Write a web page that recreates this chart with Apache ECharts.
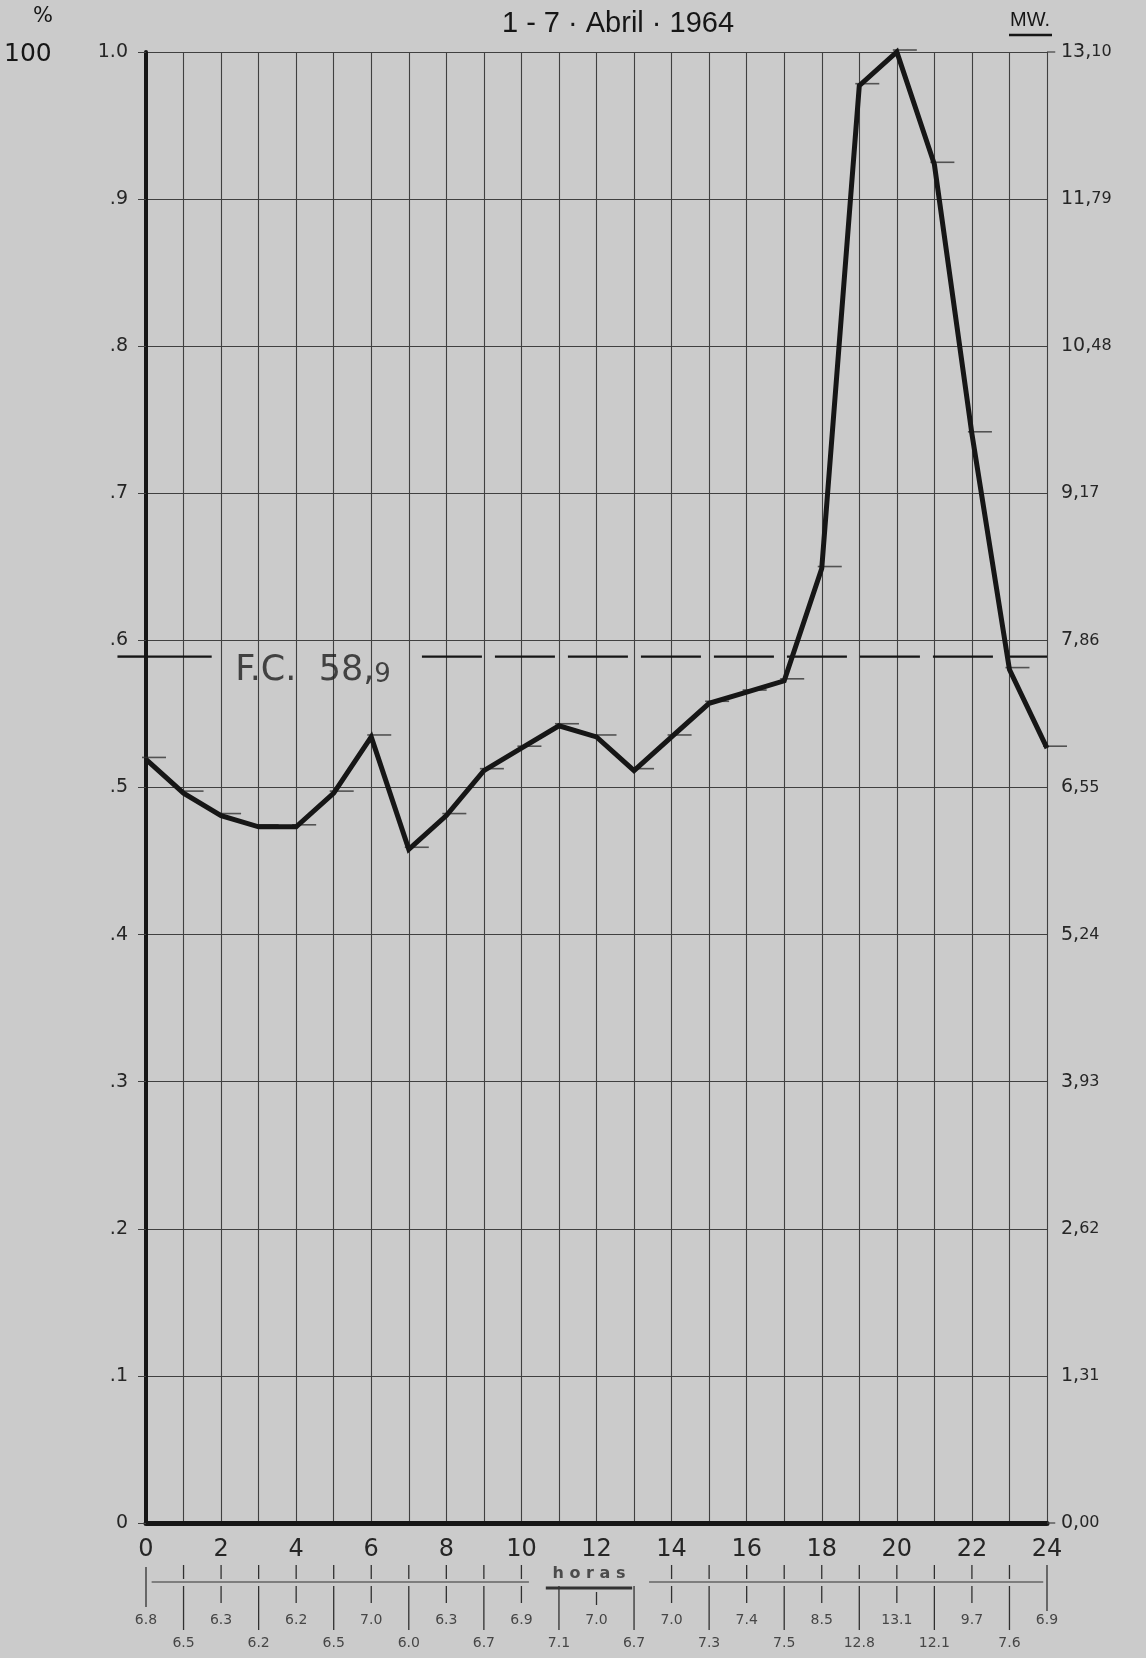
<!DOCTYPE html>
<html><head><meta charset="utf-8">
<script src="https://cdn.jsdelivr.net/npm/echarts@6/dist/echarts.min.js"></script>
<style>html,body{margin:0;padding:0;background:#cbcbcb}#c{width:1146px;height:1658px}</style>
</head><body><div id="c"></div>
<script>
// ---- data ----
const hours = [0,1,2,3,4,5,6,7,8,9,10,11,12,13,14,15,16,17,18,19,20,21,22,23,24];
const mwValues = [6.8,6.5,6.3,6.2,6.2,6.5,7.0,6.0,6.3,6.7,6.9,7.1,7.0,6.7,7.0,7.3,7.4,7.5,8.5,12.8,13.1,12.1,9.7,7.6,6.9];
const mwMax = 13.10;
const mwStep = 1.31;
const pctStep = 0.1;
const loadFactorPct = 58.9;
const titleText = '1 - 7 · Abril · 1964';
const hoursLabel = 'h o r a s';

// ---- layout / style constants ----
const INK = '#161616';
const GRID_COL = '#404040';
const BG = '#cbcbcb';
const FONT = '"DejaVu Sans", "Liberation Sans", sans-serif';
const G = {left: 146, right: 99, top: 52, bottom: 135};
const hourPx = (1146 - G.left - G.right) / 24;

const fc = loadFactorPct / 100;

// table rows (pixel-like units below the x axis)
const TBL = {line: 59, upA: 42, upB: 56, dnA: 63, dnShort: 80, dnLong: 107, row1: 97, row2: 120, horas: 51, underline: 65};

function segRender(width, color) {
  return function (params, api) {
    const a = api.coord([api.value(0), api.value(1)]);
    const b = api.coord([api.value(2), api.value(3)]);
    return {type: 'line', shape: {x1: a[0], y1: a[1], x2: b[0], y2: b[1]},
            style: {stroke: color, lineWidth: width}};
  };
}

// table ticks
const tableTicks = [];
hours.forEach(h => {
  if ((h >= 1 && h <= 10) || (h >= 14 && h <= 23)) tableTicks.push([h, TBL.upA, h, TBL.upB]);
  if (h === 0) tableTicks.push([h, TBL.upA + 2, h, 84]);
  else if (h === 24) tableTicks.push([h, TBL.upA, h, 88]);
  else if (h % 2 === 0) tableTicks.push([h, h === 12 ? 69 : TBL.dnA, h, h === 12 ? 82 : TBL.dnShort]);
  else tableTicks.push([h, TBL.dnA, h, TBL.dnLong]);
});
const tableLines = [[0.15, TBL.line, 10.2, TBL.line], [13.4, TBL.line, 23.9, TBL.line]];
const tableValueLabels = hours.map((h, i) => [h, h % 2 === 0 ? TBL.row1 : TBL.row2, mwValues[i]]);
// short outer ticks on the right edge at the bottom and top of the scale
const rightEdgeTicks = [[24, 0, 24.22, 0], [24, 1, 24.22, 1]];

const chart = echarts.init(document.getElementById('c'));
chart.setOption({
  animation: false,
  backgroundColor: BG,
  textStyle: {fontFamily: FONT, color: INK},
  graphic: [
    {type: 'text', left: 33, top: 6, style: {text: '%', font: '21px ' + FONT, fill: INK}},
    {type: 'text', left: 4, top: 42, style: {text: '100', font: '25px ' + FONT, fill: INK}},
    {type: 'text', left: 1010, top: 10, style: {text: 'MW.', font: '20px "Liberation Sans", sans-serif', fill: INK}},
    {type: 'line', shape: {x1: 1009, y1: 35, x2: 1052, y2: 35}, style: {stroke: INK, lineWidth: 2.5}}
  ],
  title: {
    text: titleText, left: 613, top: 4, textAlign: 'center',
    textStyle: {fontFamily: '"Liberation Sans", sans-serif', fontSize: 29, fontWeight: 'normal', color: INK}
  },
  grid: [
    {left: G.left, right: G.right, top: G.top, bottom: G.bottom, outerBoundsMode: 'none'},
    {left: G.left - hourPx, width: hourPx, top: G.top, bottom: G.bottom, outerBoundsMode: 'none'},
    {left: G.left, right: G.right, top: 1658 - G.bottom, bottom: 0, outerBoundsMode: 'none'}
  ],
  xAxis: [
    {type: 'value', gridIndex: 0, min: 0, max: 24, interval: 1,
     axisLine: {show: true, onZero: false, lineStyle: {color: INK, width: 5}},
     axisTick: {show: false},
     axisLabel: {margin: 15, fontSize: 24, color: '#262626', fontFamily: FONT,
                 formatter: v => (v % 2 === 0 ? String(v) : '')},
     splitLine: {show: true, showMinLine: true, showMaxLine: true, lineStyle: {color: GRID_COL, width: 1.1}}},
    {type: 'value', gridIndex: 1, min: -1, max: 0, show: false},
    {type: 'value', gridIndex: 2, min: 0, max: 24, show: false}
  ],
  yAxis: [
    {type: 'value', gridIndex: 0, min: 0, max: 1, interval: pctStep, position: 'left',
     axisLine: {show: true, lineStyle: {color: INK, width: 4}},
     axisTick: {show: true, length: 8, lineStyle: {color: GRID_COL, width: 1}},
     axisLabel: {margin: 18, fontSize: 19, color: '#262626', fontFamily: FONT,
                 formatter: v => { const r = Math.round(v * 10); return r === 0 ? '0' : (r === 10 ? '1.0' : '.' + r); }},
     splitLine: {show: true, lineStyle: {color: GRID_COL, width: 1.1}}},
    {type: 'value', gridIndex: 0, min: 0, max: mwMax, interval: mwStep, position: 'right',
     axisLine: {show: false, onZero: false}, axisTick: {show: false}, splitLine: {show: false},
     axisLabel: {margin: 14, color: '#262626', fontFamily: FONT,
                 formatter: v => { const s = v.toFixed(2).split('.'); return '{a|' + s[0] + ',}{b|' + s[1] + '}'; },
                 rich: {a: {fontSize: 19, fontFamily: FONT, color: '#262626'}, b: {fontSize: 16, fontFamily: FONT, color: '#262626'}}}},
    {type: 'value', gridIndex: 1, min: 0, max: 1, show: false},
    {type: 'value', gridIndex: 2, min: 0, max: 1658 - (1658 - G.bottom), inverse: true, show: false}
  ],
  series: [
    // load-factor line: stub left of the axis
    {type: 'line', xAxisIndex: 1, yAxisIndex: 2, symbol: 'none', silent: true, clip: false,
     data: [[-0.76, fc], [0, fc]], lineStyle: {color: INK, width: 2.4}},
    // load-factor line inside the plot
    {type: 'line', xAxisIndex: 0, yAxisIndex: 0, symbol: 'none', silent: true, z: 3,
     data: [[0, fc], [1.75, fc]], lineStyle: {color: INK, width: 2.4}},
    {type: 'line', xAxisIndex: 0, yAxisIndex: 0, symbol: 'none', silent: true, z: 3,
     data: [[7.35, fc], [24, fc]], lineStyle: {color: INK, width: 2.4, type: [60, 13]}},
    {type: 'scatter', xAxisIndex: 0, yAxisIndex: 0, symbolSize: 0, silent: true, z: 4,
     data: [[4.45, fc]],
     label: {show: true, position: 'inside', offset: [0, 14],
             formatter: () => { const s = loadFactorPct.toFixed(1).split('.'); return '{a|F.C.  ' + s[0] + ',}{b|' + s[1] + '}'; },
             rich: {a: {fontSize: 35, fontFamily: FONT, color: '#1e1e1e'}, b: {fontSize: 26, fontFamily: FONT, color: '#1e1e1e', padding: [9, 0, 0, 0]}}}},
    // right edge outer ticks
    {type: 'custom', xAxisIndex: 0, yAxisIndex: 0, silent: true, renderItem: segRender(1.2, GRID_COL),
     data: rightEdgeTicks},
    // hourly short marks
    {type: 'scatter', xAxisIndex: 0, yAxisIndex: 1, symbol: 'rect', symbolSize: [24, 1.6], symbolOffset: [8, -2],
     itemStyle: {color: '#333'}, silent: true, z: 4,
     data: hours.map((h, i) => [h, mwValues[i]])},
    // load curve
    {type: 'line', xAxisIndex: 0, yAxisIndex: 1, symbol: 'none', clip: false, z: 6,
     data: hours.map((h, i) => [h, mwValues[i]]),
     lineStyle: {color: INK, width: 5, join: 'miter', miterLimit: 6}},
    // table below the axis
    {type: 'custom', xAxisIndex: 2, yAxisIndex: 3, silent: true, renderItem: segRender(1.3, '#303030'),
     data: tableTicks},
    {type: 'custom', xAxisIndex: 2, yAxisIndex: 3, silent: true, renderItem: segRender(1.2, '#333'),
     data: tableLines},
    {type: 'custom', xAxisIndex: 2, yAxisIndex: 3, silent: true, renderItem: segRender(3, '#333'),
     data: [[10.65, TBL.underline, 12.95, TBL.underline]]},
    {type: 'scatter', xAxisIndex: 2, yAxisIndex: 3, symbolSize: 0, silent: true,
     data: [[11.8, TBL.horas]],
     label: {show: true, position: 'inside', formatter: hoursLabel, fontSize: 16, fontWeight: 'bold', fontFamily: FONT, color: '#2a2a2a'}},
    {type: 'scatter', xAxisIndex: 2, yAxisIndex: 3, symbolSize: 0, silent: true,
     data: tableValueLabels,
     label: {show: true, position: 'inside', fontSize: 14, fontFamily: FONT, color: '#242424',
             formatter: p => p.value[2].toFixed(1)}}
  ]
});
</script>
</body></html>
